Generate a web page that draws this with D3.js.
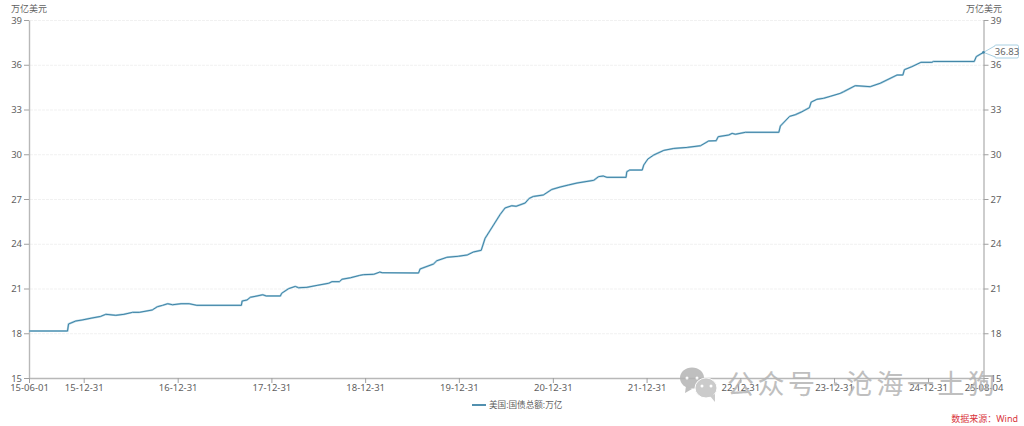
<!DOCTYPE html>
<html><head><meta charset="utf-8">
<script src="https://cdn.jsdelivr.net/npm/d3@7"></script>
<style>html,body{margin:0;background:#fff}svg{display:block}text{font-family:"Noto Sans","Noto Sans CJK SC",sans-serif}</style>
</head><body><svg id="c" width="1024" height="426"></svg>
<script>
const seriesName = "美国:国债总额:万亿";
const unit = "万亿美元";
const source = "数据来源：Wind";
const yTicks = [15,18,21,24,27,30,33,36,39];
const xTicks = ["2015-06-01","2015-12-31","2016-12-31","2017-12-31","2018-12-31","2019-12-31","2020-12-31","2021-12-31","2022-12-31","2023-12-31","2024-12-31","2025-08-04"];
const dates = ["2015-06-01","2015-10-29","2015-11-02","2015-11-30","2015-12-25","2016-02-01","2016-03-06","2016-03-26","2016-05-04","2016-06-05","2016-07-08","2016-08-03","2016-09-23","2016-10-13","2016-11-02","2016-11-22","2016-12-11","2017-01-13","2017-02-14","2017-03-16","2017-09-05","2017-09-08","2017-09-27","2017-10-10","2017-11-05","2017-11-27","2017-12-11","2018-02-04","2018-02-09","2018-03-08","2018-04-03","2018-04-16","2018-05-19","2018-06-27","2018-08-11","2018-08-24","2018-09-22","2018-10-02","2018-11-04","2018-12-10","2018-12-25","2019-02-02","2019-02-26","2019-03-07","2019-07-27","2019-08-02","2019-09-23","2019-10-06","2019-11-14","2019-12-29","2020-02-02","2020-02-26","2020-03-27","2020-04-11","2020-05-14","2020-06-09","2020-06-28","2020-07-24","2020-08-10","2020-09-14","2020-09-30","2020-10-16","2020-11-24","2020-12-27","2021-01-28","2021-03-02","2021-04-04","2021-06-08","2021-06-27","2021-07-15","2021-07-30","2021-10-12","2021-10-15","2021-10-26","2021-12-14","2021-12-20","2022-01-05","2022-01-28","2022-03-08","2022-04-16","2022-06-07","2022-07-29","2022-08-30","2022-09-28","2022-10-06","2022-11-16","2022-11-29","2022-12-12","2023-01-20","2023-05-30","2023-06-05","2023-07-11","2023-08-02","2023-08-28","2023-09-26","2023-10-03","2023-10-25","2023-11-20","2023-12-16","2024-01-24","2024-02-06","2024-03-23","2024-05-20","2024-06-28","2024-09-01","2024-09-24","2024-09-30","2024-10-29","2024-12-03","2025-01-15","2025-01-21","2025-06-29","2025-07-07","2025-08-04"];
const debt = [18.15,18.15,18.62,18.82,18.89,19.02,19.13,19.27,19.2,19.27,19.4,19.4,19.56,19.78,19.87,19.98,19.91,19.98,19.98,19.87,19.87,20.16,20.23,20.41,20.5,20.58,20.5,20.5,20.68,20.99,21.14,21.05,21.08,21.21,21.35,21.46,21.46,21.62,21.72,21.88,21.93,21.95,22.1,22.06,22.04,22.31,22.64,22.86,23.09,23.16,23.25,23.45,23.56,24.36,25.26,25.97,26.4,26.55,26.51,26.73,27.04,27.17,27.27,27.64,27.8,27.94,28.07,28.25,28.5,28.54,28.45,28.45,28.83,28.94,28.94,29.28,29.68,29.95,30.26,30.39,30.46,30.57,30.89,30.91,31.18,31.29,31.4,31.34,31.47,31.47,31.89,32.54,32.65,32.85,33.12,33.5,33.68,33.75,33.88,34.08,34.19,34.6,34.53,34.76,35.31,35.31,35.67,35.87,36.16,36.16,36.22,36.22,36.55,36.83];

const svg = d3.select("#c");
const parse = d3.utcParse("%Y-%m-%d"), fmt = d3.utcFormat("%y-%m-%d");
const x = d3.scaleUtc().domain([parse(xTicks[0]), parse(xTicks[xTicks.length-1])]).range([29,983.5]);
const y = d3.scaleLinear().domain([15,39]).range([378,20]);
const data = dates.map((d,i)=>({d:parse(d),v:debt[i]}));
const labelCol="#5f5f5f", axisCol="#b8b8b8";

// grid
svg.append("g").selectAll("line").data(yTicks.slice(1)).join("line")
  .attr("x1",30).attr("x2",983).attr("y1",d=>y(d)+.5).attr("y2",d=>y(d)+.5)
  .attr("stroke","#f1f1f1").attr("stroke-dasharray","3 1");

function styleAxis(g){
  g.selectAll(".domain").attr("stroke",axisCol).attr("stroke-width",1.4);
  g.selectAll(".tick line").attr("stroke","#a0a0a0");
  g.selectAll("text").attr("fill",labelCol).attr("font-size",9.5);
}
const yl = d3.axisLeft(y).tickValues(yTicks).tickSize(5).tickSizeOuter(0).tickPadding(2);
svg.append("g").attr("transform","translate(29,0)").call(yl).call(styleAxis);
const yr = d3.axisRight(y).tickValues(yTicks).tickSize(5).tickSizeOuter(0).tickPadding(2);
svg.append("g").attr("transform","translate(983.5,0)").call(yr).call(styleAxis);
const xa = d3.axisBottom(x).tickValues(xTicks.map(parse)).tickFormat(fmt).tickSize(5).tickSizeOuter(0).tickPadding(1);
svg.append("g").attr("transform","translate(0,378)").call(xa).call(styleAxis);

// units
[29,984].forEach(px=>svg.append("text").attr("x",px).attr("y",11.5).attr("text-anchor","middle")
  .attr("font-size",9).attr("fill",labelCol).text(unit));

// line
const line = d3.line().x(d=>x(d.d)).y(d=>y(d.v)).curve(d3.curveLinear);
svg.append("path").datum(data).attr("d",line).attr("fill","none").attr("stroke","#a9cfe0").attr("stroke-width",2).attr("stroke-linejoin","round");
svg.append("path").datum(data).attr("d",line).attr("fill","none").attr("stroke","#3f84a6").attr("stroke-width",1).attr("stroke-linejoin","round");

// watermark
const wm = svg.append("g").attr("fill","#b4b4b4").attr("opacity",.85);
wm.append("ellipse").attr("cx",692).attr("cy",378).attr("rx",12).attr("ry",10.5).attr("fill","#b4b4b4");
wm.append("path").attr("d","M686 386 l-1 7 l7 -4z").attr("fill","#b4b4b4");
wm.append("ellipse").attr("cx",706).attr("cy",388).attr("rx",11).attr("ry",10).attr("fill","#c2c2c2").attr("stroke","#fff").attr("stroke-width",1);
wm.append("path").attr("d","M710 396 l5 6 l0 -8z").attr("fill","#c2c2c2");
[[687,378],[697,378],[702,386],[711,386]].forEach(p=>wm.append("circle").attr("cx",p[0]).attr("cy",p[1]).attr("r",1.5).attr("fill","#fff"));
wm.append("text").attr("x",727).attr("y",394).attr("font-size",27).attr("letter-spacing",3.5).text("公众号");
wm.append("text").attr("x",832).attr("y",394).attr("font-size",27).text("·");
wm.append("text").attr("x",846).attr("y",394).attr("font-size",27).attr("letter-spacing",3.5).text("沧海一土狗");

// end label
const last=data[data.length-1], lx=x(last.d), ly=y(last.v);
svg.append("path").attr("d",`M${lx} ${ly} L995 ${ly-6.5} V45.5 Q995 45 996 45 H1017 Q1018.5 45 1018.5 46.5 V56.5 Q1018.5 58 1017 58 H996 Q995 58 995 56.5 V${ly+4.5} Z`)
  .attr("fill","#fff").attr("stroke","#a9d0e2").attr("stroke-width",1);
svg.append("circle").attr("cx",lx).attr("cy",ly).attr("r",1.3).attr("fill","#3f84a6");
svg.append("text").attr("x",1007).attr("y",55).attr("text-anchor","middle").attr("font-size",9.5).attr("fill","#666").text(d3.format(".2f")(last.v));

// legend
svg.append("line").attr("x1",472).attr("x2",486).attr("y1",405).attr("y2",405).attr("stroke","#3f84a6").attr("stroke-width",1.8);
svg.append("text").attr("x",489).attr("y",408).attr("font-size",8.6).attr("fill",labelCol).text(seriesName);
svg.append("text").attr("x",1018).attr("y",422).attr("text-anchor","end").attr("font-size",9).attr("fill","#d9363e").text(source);
</script></body></html>
